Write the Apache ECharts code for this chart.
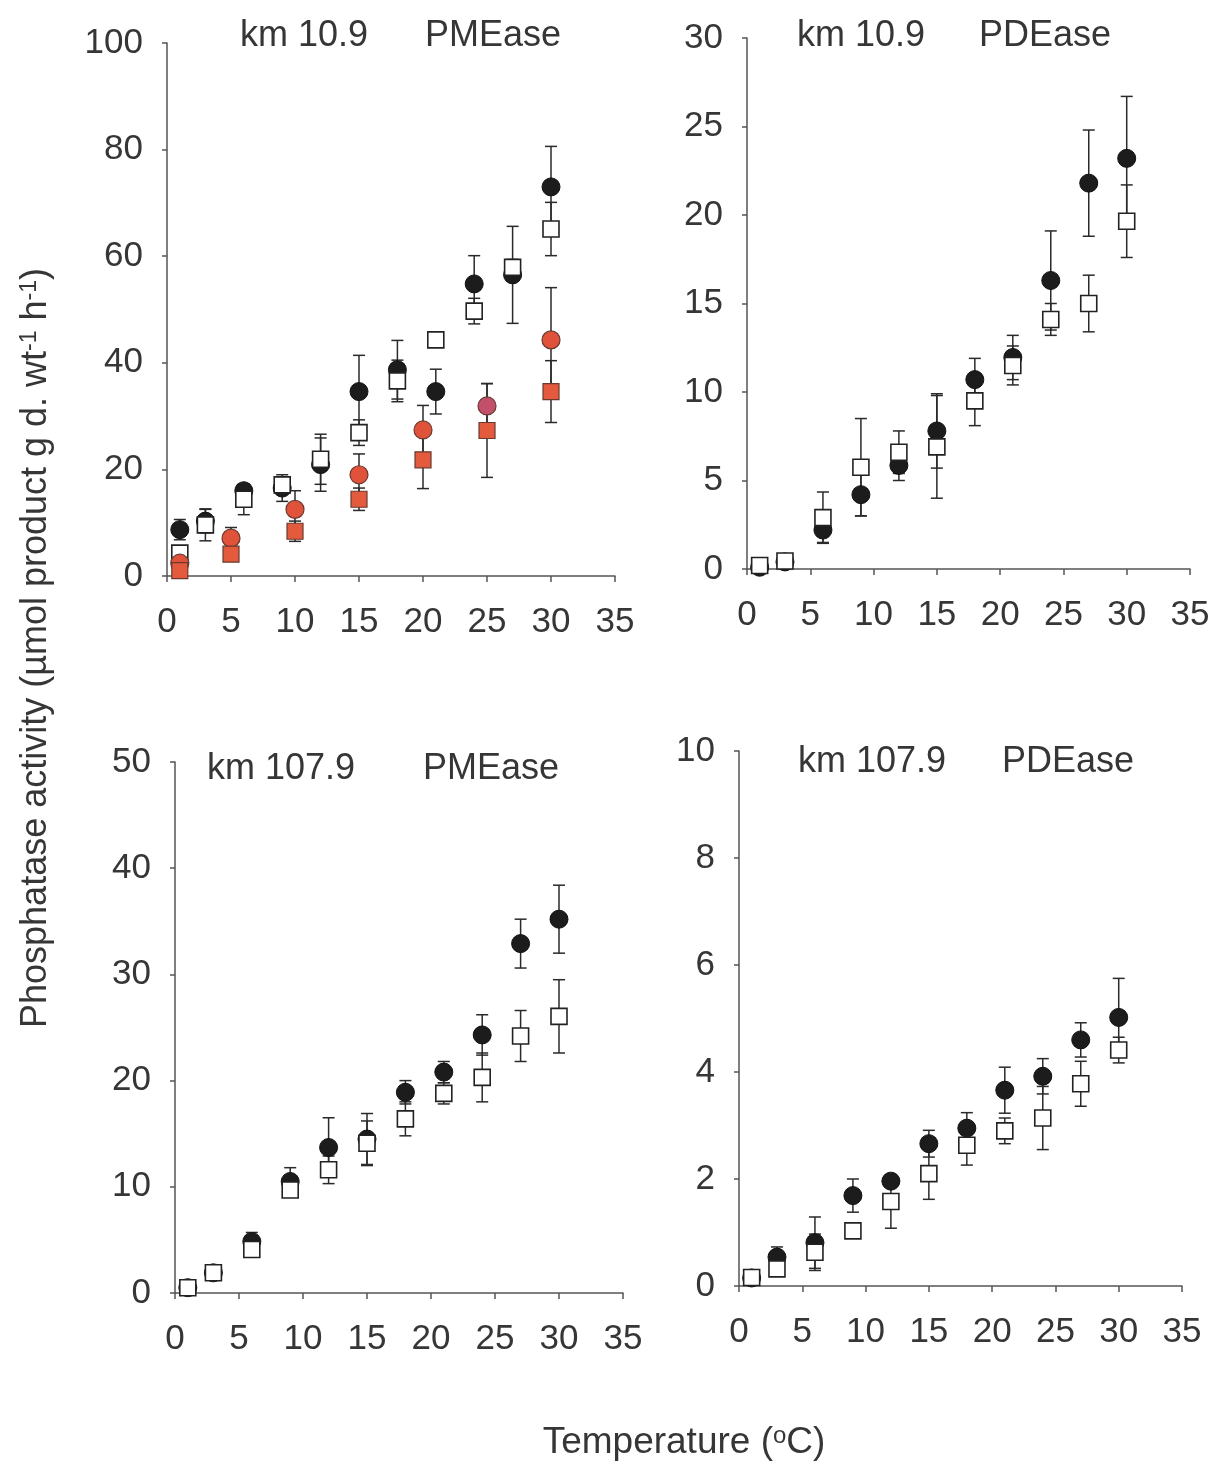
<!DOCTYPE html>
<html>
<head>
<meta charset="utf-8">
<script src="https://cdn.jsdelivr.net/npm/echarts@6/dist/echarts.min.js"></script>
<style>
html,body{margin:0;padding:0;background:#fff;}
#chart{width:1214px;height:1462px;}
</style>
</head>
<body>
<div id="chart"></div>
<script>
// ---------- DATA ----------
const temps = [1, 3, 6, 9, 12, 15, 18, 21, 24, 27, 30];
const tempsRed = [1, 5, 10, 15, 20, 25, 30];
const xTicks = [0, 5, 10, 15, 20, 25, 30, 35];

// Panel A: km 10.9 PMEase
const pmeA_filled = [8.7, 10.3, 16.0, 16.5, 20.9, 34.6, 38.7, 34.6, 54.8, 56.5, 73.0];
const pmeA_filledSd = [1.9, 2.2, 0.8, 2.5, 5.0, 6.8, 5.5, 4.2, 5.3, 9.1, 7.6];
const pmeA_open = [4.3, 9.6, 14.4, 17.1, 21.9, 26.9, 36.6, 44.3, 49.7, 57.9, 65.1];
const pmeA_openSd = [1.0, 3.0, 2.9, 1.5, 4.7, 2.4, 3.9, 1.0, 2.4, 1.5, 5.0];
const pmeA_redCircle = [2.4, 7.1, 12.5, 19.0, 27.4, 31.9, 44.3];
const pmeA_redCircleSd = [0.5, 2.0, 3.5, 3.9, 4.6, 4.2, 9.8];
const pmeA_redSquare = [1.0, 4.1, 8.4, 14.4, 21.8, 27.3, 34.6];
const pmeA_redSquareSd = [0.3, 0.5, 1.9, 2.1, 5.4, 8.8, 5.8];

// Panel B: km 10.9 PDEase
const pdeA_filled = [0.1, 0.4, 2.2, 4.2, 5.85, 7.8, 10.7, 11.95, 16.3, 21.8, 23.2];
const pdeA_filledSd = [0.1, 0.1, 0.7, 1.2, 0.85, 2.1, 1.2, 1.25, 2.8, 3.0, 3.5];
const pdeA_open = [0.2, 0.45, 2.9, 5.75, 6.6, 6.9, 9.5, 11.5, 14.1, 15.0, 19.65];
const pdeA_openSd = [0.1, 0.1, 1.45, 2.75, 1.2, 2.9, 1.4, 1.1, 0.9, 1.6, 2.05];

// Panel C: km 107.9 PMEase
const pmeB_filled = [0.5, 1.9, 4.85, 10.5, 13.7, 14.5, 18.9, 20.8, 24.3, 32.9, 35.2];
const pmeB_filledSd = [0.1, 0.2, 0.85, 1.3, 2.8, 2.4, 1.1, 1.0, 1.9, 2.3, 3.2];
const pmeB_open = [0.5, 1.9, 4.1, 9.7, 11.6, 14.1, 16.4, 18.8, 20.3, 24.2, 26.05];
const pmeB_openSd = [0.1, 0.2, 0.5, 0.6, 1.3, 2.1, 1.6, 1.0, 2.3, 2.4, 3.45];

// Panel D: km 107.9 PDEase
const pdeB_filled = [0.15, 0.54, 0.81, 1.69, 1.96, 2.66, 2.95, 3.66, 3.92, 4.6, 5.02];
const pdeB_filledSd = [0.03, 0.19, 0.48, 0.31, 0.05, 0.25, 0.29, 0.43, 0.33, 0.32, 0.73];
const pdeB_open = [0.16, 0.32, 0.63, 1.03, 1.58, 2.1, 2.63, 2.9, 3.14, 3.78, 4.41];
const pdeB_openSd = [0.03, 0.05, 0.34, 0.05, 0.5, 0.48, 0.37, 0.24, 0.59, 0.42, 0.24];

// y axis ranges
const yMaxes = [100, 30, 50, 10];
const yIntervals = [20, 5, 10, 2];

// panel titles
const siteLabels = ['km 10.9', 'km 10.9', 'km 107.9', 'km 107.9'];
const enzymeLabels = ['PMEase', 'PDEase', 'PMEase', 'PDEase'];

// ---------- LAYOUT / STYLE ----------
const FONT = "'Liberation Sans', Arial, sans-serif";
const TXT = '#363636';
const AX = '#555555';
const grids = [
  {left: 167, top: 43, width: 448, height: 533},
  {left: 747, top: 38, width: 443, height: 531},
  {left: 175, top: 762, width: 448, height: 531},
  {left: 739, top: 751, width: 443, height: 535}
];
const titlePos = [
  [240, 36, 425, 36],
  [797, 36, 979, 36],
  [207, 769, 423, 769],
  [798, 762, 1002, 762]
];

function xAxisCfg(i) {
  return {
    gridIndex: i, type: 'value', min: 0, max: 35, interval: 5,
    axisLine: {show: true, onZero: false, lineStyle: {color: AX, width: 1.5}},
    axisTick: {show: true, length: 6, lineStyle: {color: AX, width: 1.5}},
    axisLabel: {fontSize: 35, color: TXT, fontFamily: FONT, margin: 29},
    splitLine: {show: false}
  };
}
function yAxisCfg(i) {
  return {
    gridIndex: i, type: 'value', min: 0, max: yMaxes[i], interval: yIntervals[i],
    axisLine: {show: true, onZero: false, lineStyle: {color: AX, width: 1.5}},
    axisTick: {show: true, length: 5, lineStyle: {color: AX, width: 1.5}},
    axisLabel: {fontSize: 35, color: TXT, fontFamily: FONT, margin: 24},
    splitLine: {show: false}
  };
}

function errSeries(gi, xs, ys, sds) {
  return {
    type: 'custom', xAxisIndex: gi, yAxisIndex: gi, z: 1, silent: true,
    data: xs.map((x, i) => [x, Math.max(0, ys[i] - sds[i]), ys[i] + sds[i]]),
    encode: {x: 0, y: [1, 2]},
    renderItem: function (params, api) {
      const lo = api.coord([api.value(0), api.value(1)]);
      const hi = api.coord([api.value(0), api.value(2)]);
      const w = 6;
      const st = {stroke: '#2a2a2a', lineWidth: 1.5, fill: null};
      return {type: 'group', children: [
        {type: 'line', shape: {x1: hi[0], y1: hi[1], x2: lo[0], y2: lo[1]}, style: st},
        {type: 'line', shape: {x1: hi[0] - w, y1: hi[1], x2: hi[0] + w, y2: hi[1]}, style: st},
        {type: 'line', shape: {x1: lo[0] - w, y1: lo[1], x2: lo[0] + w, y2: lo[1]}, style: st}
      ]};
    }
  };
}
function pts(gi, xs, ys, kind, z) {
  const styles = {
    filled: {symbol: 'circle', size: 18, item: {color: '#1c1c1c', borderColor: '#111', borderWidth: 1, opacity: 1}},
    open: {symbol: 'rect', size: 16, item: {color: '#ffffff', borderColor: '#222', borderWidth: 1.6, opacity: 1}},
    redCircle: {symbol: 'circle', size: 18, item: {color: '#e0533a', borderColor: '#6a3a30', borderWidth: 1.2, opacity: 1}},
    redSquare: {symbol: 'rect', size: 16, item: {color: '#e45a3c', borderColor: '#6a3a30', borderWidth: 1.2, opacity: 1}}
  };
  const s = styles[kind];
  return {
    type: 'scatter', xAxisIndex: gi, yAxisIndex: gi, z: z, silent: true,
    symbol: s.symbol, symbolSize: s.size, itemStyle: s.item,
    data: xs.map((x, i) => [x, ys[i]])
  };
}

const series = [
  errSeries(0, temps, pmeA_filled, pmeA_filledSd),
  errSeries(0, temps, pmeA_open, pmeA_openSd),
  errSeries(0, tempsRed, pmeA_redCircle, pmeA_redCircleSd),
  errSeries(0, tempsRed, pmeA_redSquare, pmeA_redSquareSd),
  pts(0, temps, pmeA_filled, 'filled', 2),
  pts(0, temps, pmeA_open, 'open', 3),
  pts(0, tempsRed, pmeA_redCircle, 'redCircle', 4),
  pts(0, tempsRed, pmeA_redSquare, 'redSquare', 5),

  errSeries(1, temps, pdeA_filled, pdeA_filledSd),
  errSeries(1, temps, pdeA_open, pdeA_openSd),
  pts(1, temps, pdeA_filled, 'filled', 2),
  pts(1, temps, pdeA_open, 'open', 3),

  errSeries(2, temps, pmeB_filled, pmeB_filledSd),
  errSeries(2, temps, pmeB_open, pmeB_openSd),
  pts(2, temps, pmeB_filled, 'filled', 2),
  pts(2, temps, pmeB_open, 'open', 3),

  errSeries(3, temps, pdeB_filled, pdeB_filledSd),
  errSeries(3, temps, pdeB_open, pdeB_openSd),
  pts(3, temps, pdeB_filled, 'filled', 2),
  pts(3, temps, pdeB_open, 'open', 3)
];
// one red-circle point looks mauve in the original
series[6].data[5] = {value: series[6].data[5], itemStyle: {color: '#c3506a'}};

const graphics = [];
titlePos.forEach((p, i) => {
  graphics.push({type: 'text', x: p[0], y: p[1], silent: true,
    style: {text: siteLabels[i], fontSize: 36, fontFamily: FONT, fill: TXT, textAlign: 'left', textVerticalAlign: 'middle'}});
  graphics.push({type: 'text', x: p[2], y: p[3], silent: true,
    style: {text: enzymeLabels[i], fontSize: 36, fontFamily: FONT, fill: TXT, textAlign: 'left', textVerticalAlign: 'middle'}});
});
graphics.push({
  type: 'text', x: 36, y: 648, rotation: Math.PI / 2, silent: true,
  style: {
    text: 'Phosphatase activity (µmol product g d. wt{sup|-1} h{sup|-1})',
    fontSize: 36, fontFamily: FONT, fill: TXT, textAlign: 'center', textVerticalAlign: 'middle',
    rich: {sup: {fontSize: 23, fontFamily: FONT, fill: TXT, verticalAlign: 'top', lineHeight: 20}}
  }
});
graphics.push({
  type: 'text', x: 684, y: 1443, silent: true,
  style: {
    text: 'Temperature ({sup|o}C)',
    fontSize: 37, fontFamily: FONT, fill: TXT, textAlign: 'center', textVerticalAlign: 'middle',
    rich: {sup: {fontSize: 24, fontFamily: FONT, fill: TXT, verticalAlign: 'top', lineHeight: 20}}
  }
});

const chart = echarts.init(document.getElementById('chart'), null, {renderer: 'canvas'});
chart.setOption({
  animation: false,
  backgroundColor: '#ffffff',
  grid: grids,
  xAxis: grids.map((g, i) => xAxisCfg(i)),
  yAxis: grids.map((g, i) => yAxisCfg(i)),
  series: series,
  graphic: graphics
});
</script>
</body>
</html>
